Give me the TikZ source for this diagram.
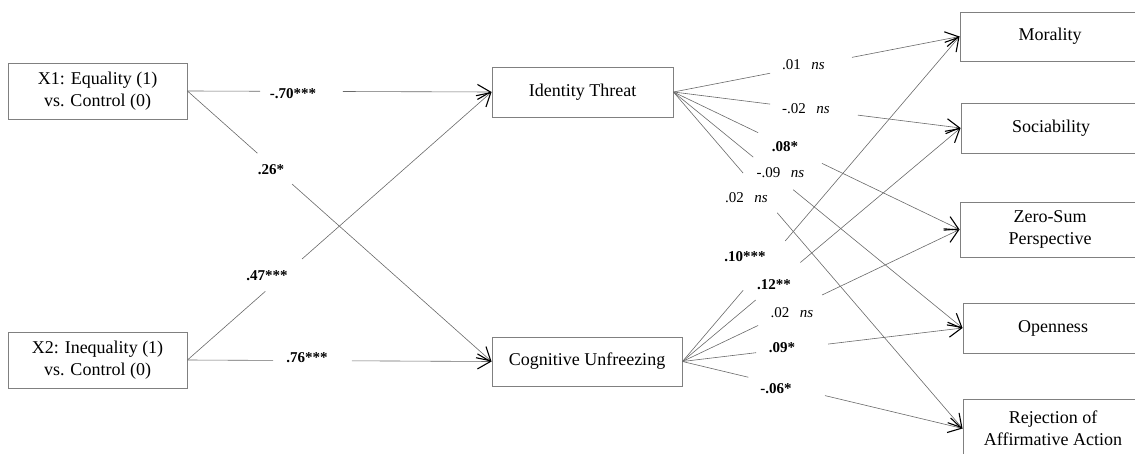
\documentclass[tikz,border=0pt]{standalone}
\usepackage{fontspec}
\setmainfont{Liberation Serif}
\usetikzlibrary{arrows.meta,calc}

\definecolor{framegray}{RGB}{128,128,128}
\definecolor{linkgray}{RGB}{105,105,105}

% path segment with a gap left open for its coefficient label
\newcommand\gapline[4]{%
  \draw[link] (#1) -- ($(#1)!#3!(#2)$);
  \draw[link,-{Straight Barb[length=13pt,width=15pt,line width=1.1pt,color=black]}]
    ($(#1)!#4!(#2)$) -- (#2);}
\newcommand\nsmark{\hspace{0.7em}\textit{ns}}

\begin{document}
\begin{tikzpicture}[x=1pt,y=-1pt,
  box/.style={draw=framegray,line width=0.9pt,align=center,inner sep=0pt,
    font=\fontsize{18}{21.5}\selectfont},
  link/.style={draw=linkgray,line width=0.6pt},
  coef/.style={inner sep=0pt,font=\fontsize{15}{17}\selectfont}]
\useasboundingbox (0,0) rectangle (1135,454);
\clip (0,0) rectangle (1135,454);

% predictors
\node[box,minimum width=179pt,minimum height=56pt] (x1) at (97.5,91) {X1: Equality (1)\\vs. Control (0)};
\node[box,minimum width=179pt,minimum height=56pt] (x2) at (97.5,360) {X2: Inequality (1)\\vs. Control (0)};

% mediators
\node[box,minimum width=181pt,minimum height=50pt] (it) at (582.5,92) {Identity Threat};
\node[box,minimum width=190pt,minimum height=49pt] (cu) at (587,361.5) {Cognitive Unfreezing};

% outcomes
\node[box,minimum width=180pt,minimum height=49pt] (mor) at (1050,36.5) {Morality};
\node[box,minimum width=180pt,minimum height=50pt] (soc) at (1051,128) {Sociability};
\node[box,minimum width=180pt,minimum height=55pt] (zs) at (1050,229.5) {Zero-Sum\\Perspective};
\node[box,minimum width=180pt,minimum height=50pt] (op) at (1053,328) {Openness};
\node[box,minimum width=180pt,minimum height=59pt] (rej) at (1053,428.5) {Rejection of\\Affirmative Action};

% a paths
\gapline{x1.east}{it.west}{0.239}{0.511}
\gapline{x1.east}{cu.west}{0.230}{0.344}
\gapline{x2.east}{it.west}{0.256}{0.377}
\gapline{x2.east}{cu.west}{0.282}{0.541}

% b paths from identity threat
\gapline{it.east}{mor.west}{0.338}{0.624}
\gapline{it.east}{soc.west}{0.337}{0.642}
\gapline{it.east}{zs.west}{0.296}{0.519}
\gapline{it.east}{op.west}{0.276}{0.414}
\gapline{it.east}{rej.west}{0.241}{0.359}

% b paths from cognitive unfreezing
\gapline{cu.east}{mor.west}{0.219}{0.371}
\gapline{cu.east}{soc.west}{0.263}{0.424}
\gapline{cu.east}{zs.west}{0.273}{0.504}
\gapline{cu.east}{op.west}{0.263}{0.520}
\gapline{cu.east}{rej.west}{0.235}{0.509}

% coefficients
\node[coef] (c1) at (293,94) {\textbf{-.70***}};
\node[coef] (c2) at (271,170) {\textbf{.26*}};
\node[coef] (c3) at (267,276) {\textbf{.47***}};
\node[coef] (c4) at (307,358) {\textbf{.76***}};

\node[coef] (c5) at (803.5,65) {.01\nsmark};
\node[coef] (c6) at (806,109) {-.02\nsmark};
\node[coef] (c7) at (785,147) {\textbf{.08*}};
\node[coef] (c8) at (780.5,173) {-.09\nsmark};
\node[coef] (c9) at (746.5,198) {.02\nsmark};

\node[coef] (c10) at (745,257) {\textbf{.10***}};
\node[coef] (c11) at (774,285) {\textbf{.12**}};
\node[coef] (c12) at (792,313) {.02\nsmark};
\node[coef] (c13) at (782,348) {\textbf{.09*}};
\node[coef] (c14) at (776,389) {\textbf{-.06*}};
\end{tikzpicture}
\end{document}
